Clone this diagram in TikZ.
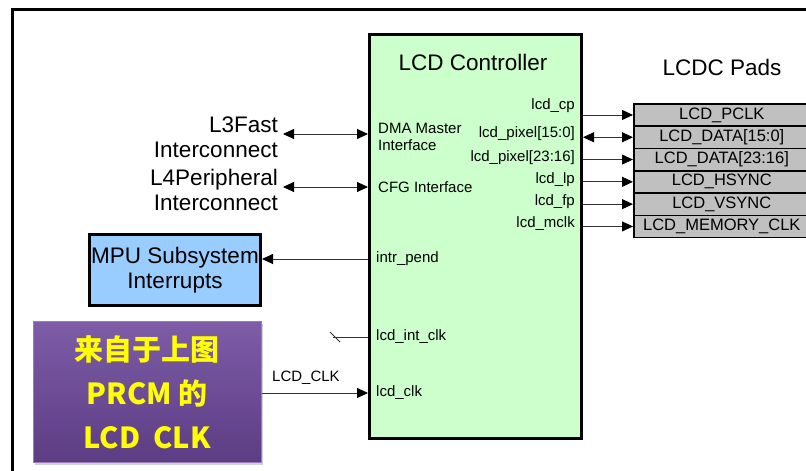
\documentclass[tikz,border=0pt]{standalone}
\usepackage{fontspec}
\setmainfont{Liberation Sans}
\newfontfamily\cjk{Noto Sans CJK SC}
\usetikzlibrary{arrows.meta,shadows}
\definecolor{lcdgreen}{HTML}{CCFFCC}
\definecolor{mpublue}{HTML}{99CCFF}
\definecolor{padgray}{HTML}{C0C0C0}
\definecolor{linegray}{HTML}{333333}
\definecolor{purtop}{HTML}{7E5CA8}
\definecolor{purbot}{HTML}{5C3D83}
\definecolor{cjkyellow}{HTML}{FFFF00}
\begin{document}
\begin{tikzpicture}[x=1pt,y=-1pt,
  lbl/.style={font=\fontsize{15}{17}\selectfont, inner sep=0pt},
  big/.style={font=\fontsize{22.5}{25}\selectfont, inner sep=0pt},
  padbox/.style={draw=black, line width=1.6pt, fill=padgray, minimum width=176pt, minimum height=22.3pt, anchor=north west, font=\fontsize{16.5}{18}\selectfont, inner sep=0pt},
  sig/.style={draw=linegray, line width=0.9pt},
  tip/.style={-{Triangle[length=11pt,width=10pt,fill=black,color=black]}},
  dtip/.style={{Triangle[length=11pt,width=10pt,fill=black,color=black]}-{Triangle[length=11pt,width=10pt,fill=black,color=black]}}]
\useasboundingbox (0,0) rectangle (806,471);
\fill[white] (0,0) rectangle (806,471);
\begin{scope}
\clip (0,0) rectangle (806,471);
\draw[line width=3pt] (12,9) rectangle (830,500);
\foreach \i/\t in {1/LCD\_PCLK,2/LCD\_DATA[15:0],3/LCD\_DATA[23:16],4/LCD\_HSYNC,5/LCD\_VSYNC,6/LCD\_MEMORY\_CLK}{
  \node[padbox] (p\i) at (633,{103+22.3*(\i-1)}) {\t};
}
\end{scope}
% LCD controller
\node[draw, line width=3pt, fill=lcdgreen, minimum width=212pt, minimum height=404pt, anchor=north west, inner sep=0pt] (lcd) at (368,33) {};
\node[big] (title) at (473,62) {LCD Controller};
\node[big] (padsT) at (722,67) {LCDC Pads};
% right labels
\node[lbl, anchor=east] (s1) at (575,106) {lcd\_cp};
\node[lbl, anchor=east] (s2) at (575,134) {lcd\_pixel[15:0]};
\node[lbl, anchor=east] (s3) at (575,158) {lcd\_pixel[23:16]};
\node[lbl, anchor=east] (s4) at (575,180) {lcd\_lp};
\node[lbl, anchor=east] (s5) at (575,202) {lcd\_fp};
\node[lbl, anchor=east] (s6) at (575,224) {lcd\_mclk};
\draw[sig,tip] (lcd.east |- p1.west) -- (p1.west);
\draw[sig,dtip] (lcd.east |- p2.west) -- (p2.west);
\draw[sig,tip] (lcd.east |- p3.west) -- (p3.west);
\draw[sig,tip] (lcd.east |- p4.west) -- (p4.west);
\draw[sig,tip] (lcd.east |- p5.west) -- (p5.west);
\draw[sig,tip] (lcd.east |- p6.west) -- (p6.west);
% left labels inside
\node[lbl, anchor=west, align=left] (dma) at (378,137) {DMA Master\\Interface};
\node[lbl, anchor=west] (cfg) at (378,187) {CFG Interface};
\node[lbl, anchor=west] (intr) at (376,259) {intr\_pend};
\node[lbl, anchor=west] (intclk) at (376,337) {lcd\_int\_clk};
\node[lbl, anchor=west] (clk) at (376,393) {lcd\_clk};
% interconnects
\node[big, anchor=east, align=right] (l3) at (278,137.5) {L3Fast\\Interconnect};
\node[big, anchor=east, align=right] (l4) at (278,190) {L4Peripheral\\Interconnect};
\draw[sig,dtip] (283,134) -- (lcd.west |- 0,134);
\draw[sig,dtip] (283,187) -- (lcd.west |- 0,187);
% MPU
\node[draw, line width=3pt, fill=mpublue, minimum width=171pt, minimum height=71pt, anchor=north west, inner sep=0pt, align=center, font=\fontsize{22.5}{25}\selectfont] (mpu) at (88,233) {MPU Subsystem\\Interrupts};
\draw[sig,tip] (lcd.west |- 0,259) -- (mpu.east |- 0,259);
% int clk stub
\coordinate (ic) at (333,337);
\draw[sig] (lcd.west |- ic) -- (ic);
\draw[sig] (330,332) -- (340,342);
% purple box
\node[draw=purtop!80!white, line width=0.6pt, top color=purtop, bottom color=purbot, minimum width=228pt, minimum height=141pt, anchor=north west, inner sep=0pt, align=center, drop shadow={shadow xshift=2pt, shadow yshift=-3pt, opacity=0.35}, text=cjkyellow, font=\cjk\bfseries\fontsize{29}{44}\selectfont] (pu) at (33,321) {来自于上图\\PRCM 的\\LCD~~CLK};
\draw[sig,tip] (pu.east |- 0,393) -- (lcd.west |- 0,393);
\node[lbl] (clkl) at (306,378) {LCD\_CLK};
\end{tikzpicture}
\end{document}
